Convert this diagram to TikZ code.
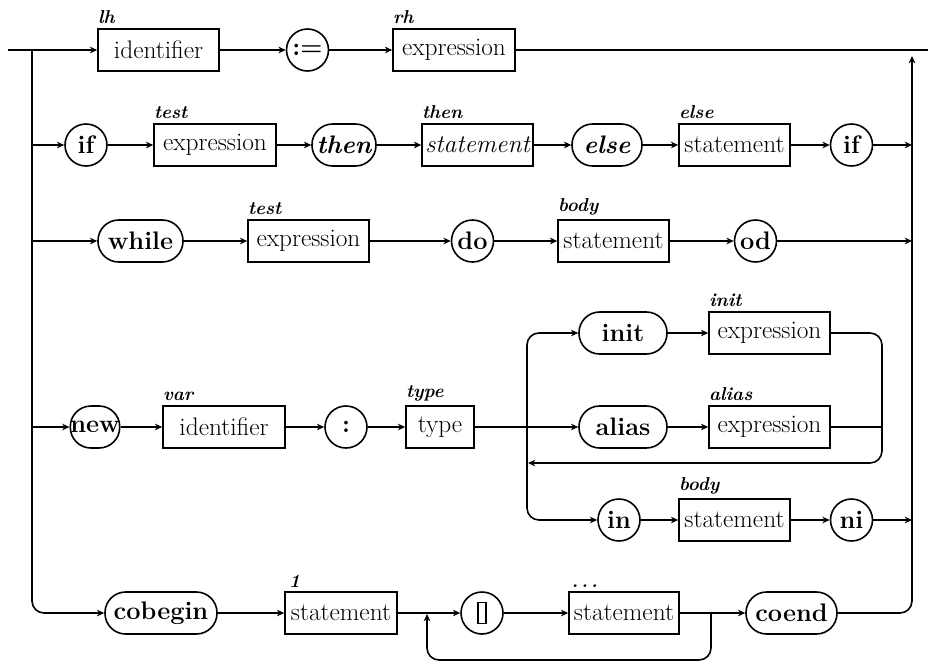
\documentclass[tikz,border=0pt]{standalone}
\usetikzlibrary{arrows.meta}
\begin{document}
\begin{tikzpicture}[x=0.75pt,y=-0.75pt,
  line width=1.2pt,
  arr/.style={-{Stealth[length=5.5pt,width=5pt]}},
  base/.style={draw,inner sep=0pt,minimum height=31.5pt,font=\fontsize{19}{22}\selectfont},
  nt/.style={base,rectangle},
  kw/.style={base,rectangle,rounded corners=15.5pt,font=\fontsize{19}{22}\selectfont\bfseries},
  kc/.style={base,circle,minimum size=31.5pt,font=\fontsize{19}{22}\selectfont\bfseries},
  lab/.style={anchor=south west,inner sep=0pt,yshift=2.5pt,font=\fontsize{14}{16}\selectfont\bfseries\itshape},
  rc/.style={rounded corners=9pt}
]
\useasboundingbox (0,0) rectangle (928,664);

% row A
\node[nt,minimum width=90.75pt] (id1) at (158.5,50) {identifier};
\node[kc] (asg) at (307.5,50) {:=};
\node[nt,minimum width=91.5pt] (ex1) at (454,50) {expression};
% row B
\node[kc] (if1) at (86,145) {if};
\node[nt,minimum width=91.5pt] (ex2) at (215,145) {expression};
\node[kw,minimum width=48pt,font=\fontsize{19}{22}\selectfont\bfseries\itshape] (thn) at (344,145) {then};
\node[nt,minimum width=83.25pt,font=\fontsize{19}{22}\selectfont\itshape] (st1) at (477.5,145) {statement};
\node[kw,minimum width=52.5pt,font=\fontsize{19}{22}\selectfont\bfseries\itshape] (els) at (607,145) {else};
\node[nt,minimum width=83.25pt] (st2) at (734.5,145) {statement};
\node[kc] (fi1) at (851.5,145) {if};
% row C
\node[kw,minimum width=63.75pt] (whl) at (140.5,241) {while};
\node[nt,minimum width=90.75pt] (ex3) at (308.5,241) {expression};
\node[kc] (do1) at (472.5,241) {do};
\node[nt,minimum width=83.25pt] (st3) at (613.5,241) {statement};
\node[kc] (od1) at (755.5,241) {od};
% row D
\node[kw,minimum width=66pt] (ini) at (623,333) {init};
\node[nt,minimum width=90.75pt] (ex4) at (769.5,333) {expression};
% row E
\node[kw,minimum width=36pt] (new) at (95,427) {new};
\node[nt,minimum width=91.5pt] (id2) at (224,427) {identifier};
\node[kc] (col) at (346,427) {:};
\node[nt,minimum width=51pt] (typ) at (440,427) {type};
\node[kw,minimum width=66pt] (als) at (623,427) {alias};
\node[nt,minimum width=90.75pt] (ex5) at (769.5,427) {expression};
% row F
\node[kc] (in1) at (619,520) {in};
\node[nt,minimum width=83.25pt] (st4) at (734.5,520) {statement};
\node[kc] (ni1) at (851.5,520) {ni};
% row G
\node[kw,minimum width=84pt] (cob) at (161,613) {cobegin};
\node[nt,minimum width=84pt] (st5) at (341,613) {statement};
\node[kc] (bar) at (482,613) {};
\draw ([xshift=-3pt,yshift=-8pt]bar.center) rectangle ([xshift=3pt,yshift=8pt]bar.center);
\node[nt,minimum width=82.5pt] (st6) at (624,613) {statement};
\node[kw,minimum width=68.25pt] (coe) at (791.5,613) {coend};

% labels
\node[lab] (l1) at (id1.north west) {lh};
\node[lab] (l2) at (ex1.north west) {rh};
\node[lab] (l3) at (ex2.north west) {test};
\node[lab] (l4) at (st1.north west) {then};
\node[lab] (l5) at (st2.north west) {else};
\node[lab] (l6) at (ex3.north west) {test};
\node[lab] (l7) at (st3.north west) {body};
\node[lab] (l8) at (ex4.north west) {init};
\node[lab] (l9) at (id2.north west) {var};
\node[lab] (l10) at (typ.north west) {type};
\node[lab] (l11) at (ex5.north west) {alias};
\node[lab] (l12) at (st4.north west) {body};
\node[lab,xshift=3pt] (l13) at (st5.north west) {1};
\node[lab,xshift=2pt] (l14) at (st6.north west) {.\,.\,.};

% coordinates
\coordinate (in0) at (8,50);
\coordinate (out0) at (928,50);
\coordinate (lbA) at (32,50);
\coordinate (lbB) at (32,145);
\coordinate (lbC) at (32,241);
\coordinate (lbE) at (32,427);
\coordinate (rbA) at (912,56);
\coordinate (rbB) at (912,145);
\coordinate (rbC) at (912,241);
\coordinate (rbF) at (912,520);
\coordinate (lpL) at (527,427);
\coordinate (lpR) at (882,427);
\coordinate (lpRet) at (528,463);
\coordinate (cjR) at (711,613);
\coordinate (cjL) at (427,614);

% row A
\draw[arr] (in0) -- (id1);
\draw[arr] (id1) -- (asg);
\draw[arr] (asg) -- (ex1);
\draw (ex1) -- (out0);
% buses
\draw[arr,rc] (lbA) |- (cob);
\draw[arr,rc] (coe) -| (rbA);
% row B
\draw[arr] (lbB) -- (if1);
\draw[arr] (if1) -- (ex2);
\draw[arr] (ex2) -- (thn);
\draw[arr] (thn) -- (st1);
\draw[arr] (st1) -- (els);
\draw[arr] (els) -- (st2);
\draw[arr] (st2) -- (fi1);
\draw[arr] (fi1) -- (rbB);
% row C
\draw[arr] (lbC) -- (whl);
\draw[arr] (whl) -- (ex3);
\draw[arr] (ex3) -- (do1);
\draw[arr] (do1) -- (st3);
\draw[arr] (st3) -- (od1);
\draw[arr] (od1) -- (rbC);
% row E and loops
\draw[arr] (lbE) -- (new);
\draw[arr] (new) -- (id2);
\draw[arr] (id2) -- (col);
\draw[arr] (col) -- (typ);
\draw[arr] (typ) -- (als);
\draw[arr] (als) -- (ex5);
\draw (ex5) -- (lpR);
\draw[arr,rc] (lpL) |- (ini);
\draw[arr] (ini) -- (ex4);
\draw[arr,rc] (ex4) -| (lpR) |- (lpRet);
\draw[arr,rc] (lpL) |- (in1);
% row F
\draw[arr] (in1) -- (st4);
\draw[arr] (st4) -- (ni1);
\draw[arr] (ni1) -- (rbF);
% row G
\draw[arr] (cob) -- (st5);
\draw[arr] (st5) -- (bar);
\draw[arr] (bar) -- (st6);
\draw[arr] (st6) -- (coe);
\draw[arr,rc] (cjR) -- ++(0,47) -| (cjL);
\end{tikzpicture}
\end{document}
